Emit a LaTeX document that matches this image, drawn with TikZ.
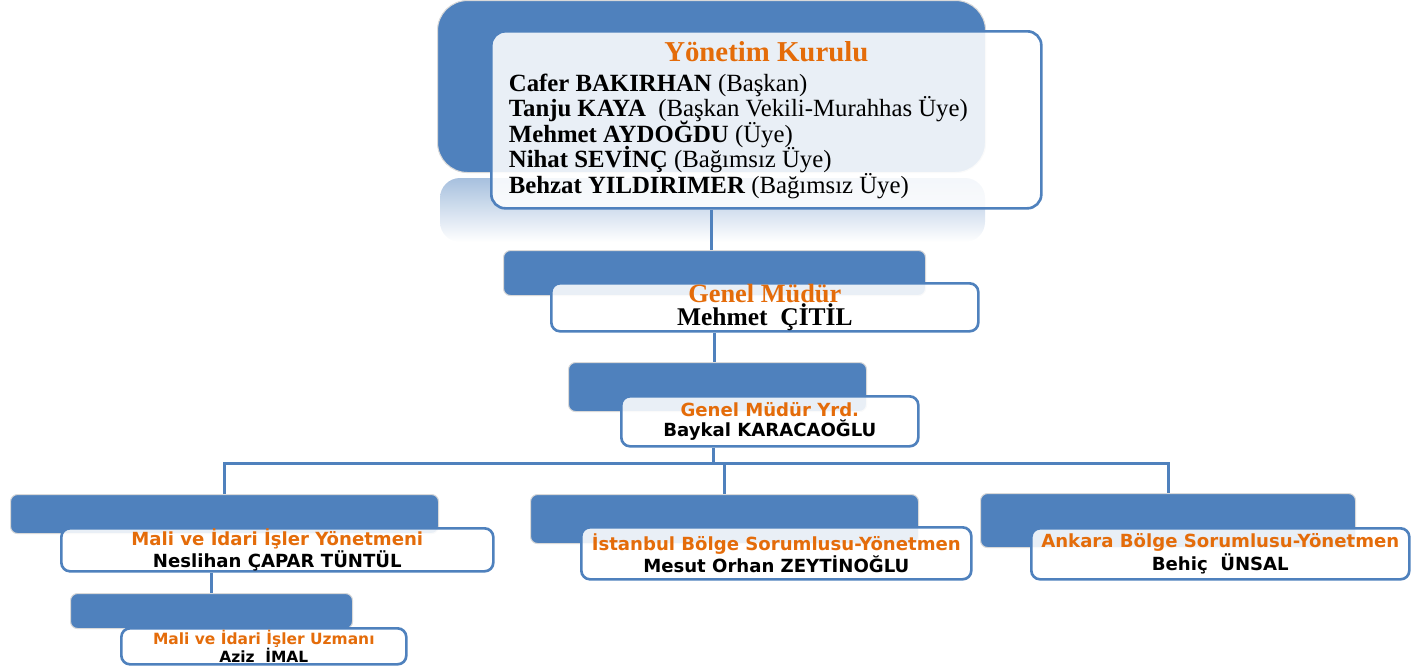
\documentclass[tikz,border=0pt]{standalone}
\usepackage{fontspec}
\setmainfont{Liberation Serif}
\newfontfamily\orgsans{DejaVu Sans}
\definecolor{boxblue}{HTML}{4F81BD}
\definecolor{titleorange}{HTML}{E46C0A}

\newcommand{\sanspost}[2]{{\color{titleorange}#1}\\#2}
\newcommand{\serifpost}[2]{{\color{titleorange}\fontsize{15}{13}\selectfont #1}\\#2}

\tikzset{
  wh/.style 2 args={minimum width=#1*0.02cm, minimum height=#2*0.02cm},
  backbox/.style={draw=black!15, line width=0.6pt, fill=boxblue, rounded corners=4pt,
    anchor=north west, inner sep=0pt},
  frontbox/.style={draw=boxblue, line width=1.5pt, fill=white, fill opacity=0.88,
    text opacity=1, rounded corners=5pt, anchor=north west, inner sep=0pt, align=center},
  link/.style={draw=boxblue, line width=1.7pt},
  sansrole/.style={font=\orgsans\bfseries\fontsize{10.3}{11.3}\selectfont},
  serifrole/.style={font=\bfseries\fontsize{14.5}{13}\selectfont}
}

\begin{document}
\begin{tikzpicture}[x=0.02cm, y=-0.02cm]
\useasboundingbox (0,0) rectangle (1420,667);

% Yonetim Kurulu
\node[backbox, wh={548}{172}, rounded corners=0.6cm] (kurulback) at (437,0) {};
\shade[top color=boxblue!50, bottom color=white, rounded corners=0.4cm]
  (440,178) rectangle (985,242);
\node[frontbox, wh={550}{177}, rounded corners=0.28cm] (kurul) at (490,30) {%
  \begin{minipage}{10.3cm}
  \lineskiplimit=-10pt \lineskip=0pt
  {\centering\fontsize{16.4}{16}\selectfont\bfseries\color{titleorange}Yönetim Kurulu\par}
  \fontsize{14.1}{14.5}\selectfont
  \vspace{2.5pt}
  \raggedright
  \textbf{Cafer BAKIRHAN} (Başkan)\\
  \textbf{Tanju KAYA}\ \ (Başkan Vekili-Murahhas Üye)\\
  \textbf{Mehmet AYDOĞDU} (Üye)\\
  \textbf{Nihat SEVİNÇ} (Bağımsız Üye)\\
  \textbf{Behzat YILDIRIMER} (Bağımsız Üye)
  \end{minipage}};

% Genel Mudur
\node[backbox, wh={422}{45}] (gmback) at (503,250) {};
\node[frontbox, serifrole, wh={427}{48}] (gm) at (550,282) {\serifpost{Genel Müdür}{Mehmet\ \ ÇİTİL}};

% Genel Mudur Yrd.
\node[backbox, wh={298}{49}] (gmyback) at (568,362) {};
\node[frontbox, sansrole, wh={297}{50}] (gmy) at (620,395) {\sanspost{Genel Müdür Yrd.}{Baykal KARACAOĞLU}};

% Yonetmenler
\node[backbox, wh={428}{39}] (malback) at (10,494) {};
\node[frontbox, sansrole, wh={432}{43}] (mal) at (60,527) {\sanspost{Mali ve İdari İşler Yönetmeni}{Neslihan ÇAPAR TÜNTÜL}};

\node[backbox, wh={388}{49}] (istback) at (530,494) {};
\node[frontbox, sansrole, wh={390}{52}] (ist) at (580,526) {\sanspost{İstanbul Bölge Sorumlusu-Yönetmen}{Mesut Orhan ZEYTİNOĞLU}};

\node[backbox, wh={375}{54}] (ankback) at (980,493) {};
\node[frontbox, sansrole, wh={378}{51}] (ank) at (1030,527) {\sanspost{Ankara Bölge Sorumlusu-Yönetmen}{Behiç\ \ ÜNSAL}};

% Uzman
\node[backbox, wh={282}{35}] (uzmback) at (70,593) {};
\node[frontbox, sansrole, font=\orgsans\bfseries\fontsize{8.8}{10.2}\selectfont, wh={285}{36}] (uzm) at (120,627) {\sanspost{Mali ve İdari İşler Uzmanı}{Aziz\ \ İMAL}};

% Connectors
\coordinate (bus) at (713,463);
\draw[link] (kurulback.south |- kurul.south) -- (kurulback.south |- gmback.north);
\draw[link] (gmback.south |- gm.south) -- (gmback.south |- gmyback.north);
\draw[link] (bus |- gmy.south) -- (bus);
\draw[link] (malback.north) |- (bus) -| (ankback.north);
\draw[link] (bus -| istback.north) -- (istback.north);
\draw[link] (uzmback.north |- mal.south) -- (uzmback.north);

\end{tikzpicture}
\end{document}
